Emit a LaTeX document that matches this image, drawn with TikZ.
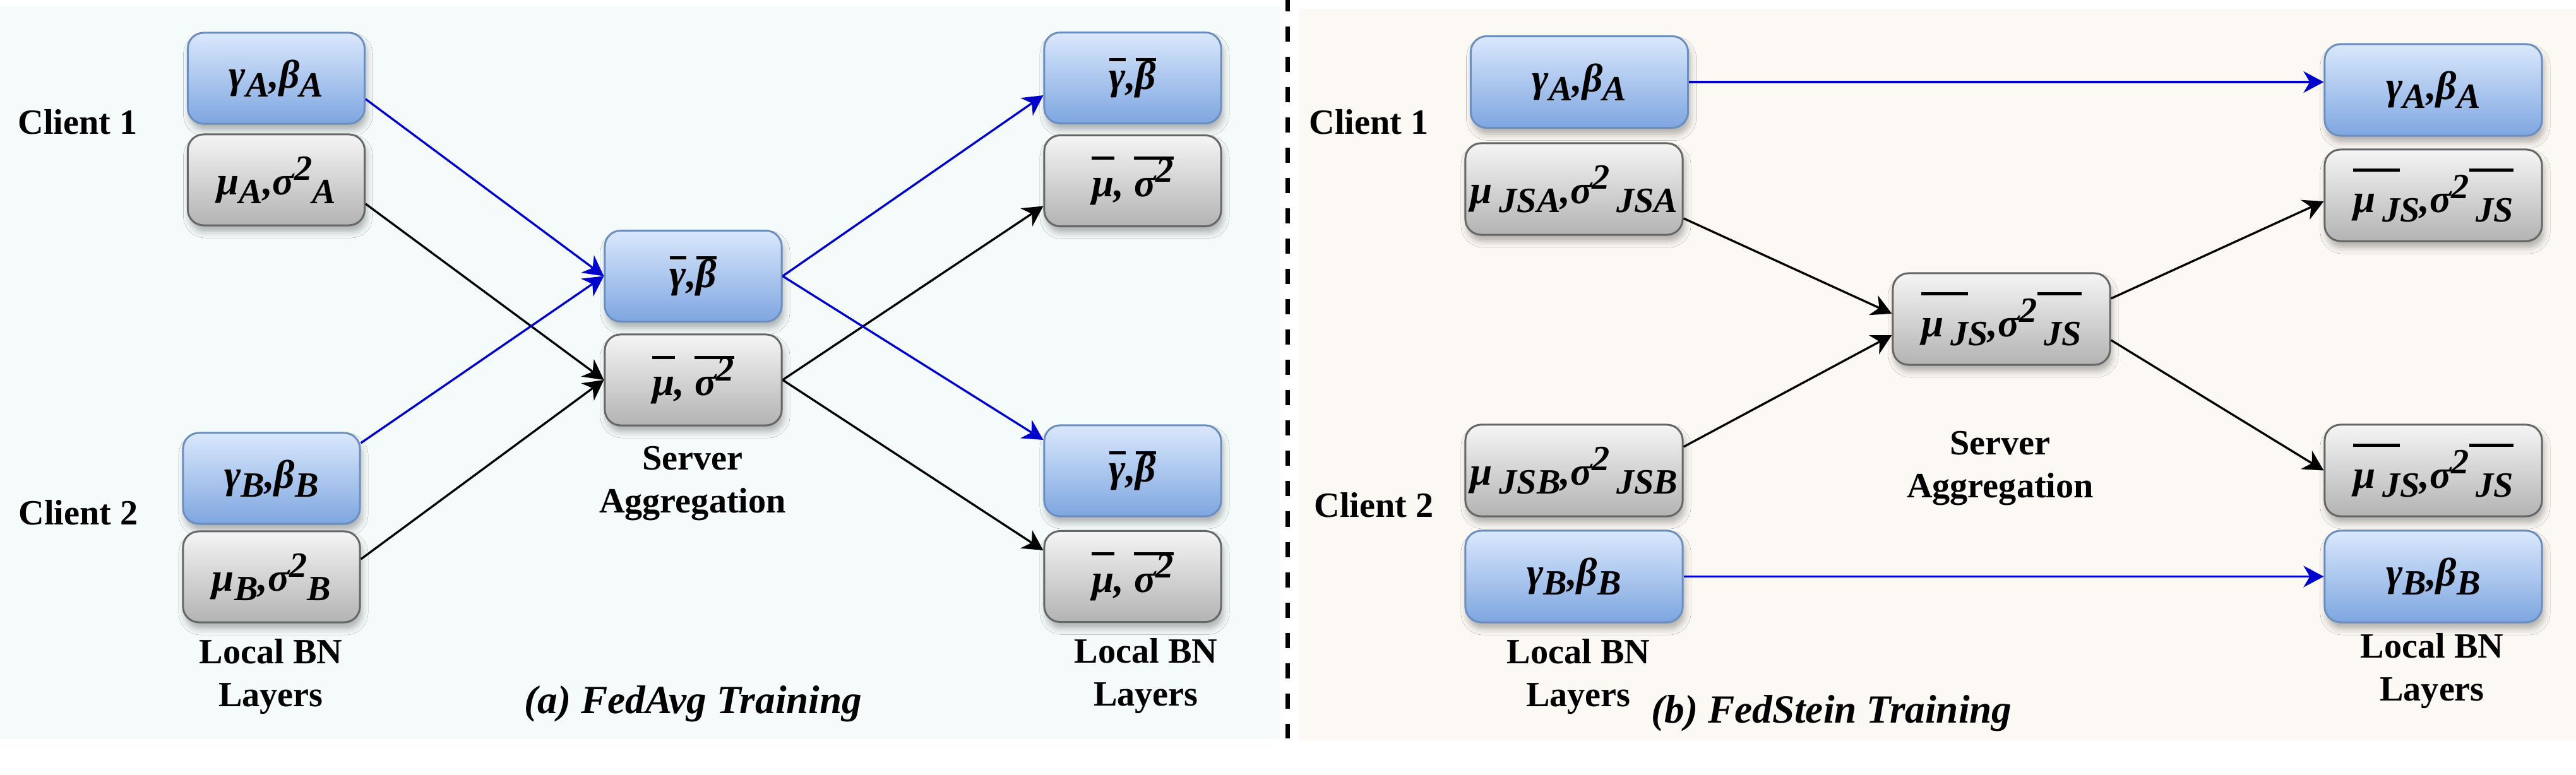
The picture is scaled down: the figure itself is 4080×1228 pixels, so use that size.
\documentclass[tikz,border=0pt]{standalone}
\usepackage{fontspec}
\setmainfont{Liberation Serif}
\usetikzlibrary{arrows.meta,shadows.blur,calc}

\definecolor{bgL}{HTML}{F5FBFB}
\definecolor{bgR}{HTML}{FCF9F4}
\definecolor{blueTop}{HTML}{DAE8FC}
\definecolor{blueBot}{HTML}{7EA6E0}
\definecolor{blueEdge}{HTML}{6C8EBF}
\definecolor{grayTop}{HTML}{F5F5F5}
\definecolor{grayBot}{HTML}{B3B3B3}
\definecolor{grayEdge}{HTML}{666666}
\definecolor{arrowBlue}{HTML}{0000CC}

\newcommand{\sbs}[1]{\raisebox{-4pt}{\fontsize{16}{16}\selectfont #1}}
\newcommand{\sps}[1]{\raisebox{6.5pt}{\fontsize{16}{16}\selectfont #1}}
\newcommand{\ob}[2]{\setbox0\hbox{#2}\rlap{\raisebox{#1}{\rule{\wd0}{1.3pt}}}\box0}

\newcommand{\labGA}{γ\sbs{A},β\sbs{A}}
\newcommand{\labGB}{γ\sbs{B},β\sbs{B}}
\newcommand{\labMA}{μ\sbs{A},σ\sps{2}\sbs{A}}
\newcommand{\labMB}{μ\sbs{B},σ\sps{2}\sbs{B}}
\newcommand{\labGbar}{\ob{12.5pt}{γ},\ob{12.5pt}{β}}
\newcommand{\labMbar}{\ob{16.5pt}{μ}, \ob{16.5pt}{σ\sps{2}}}
\newcommand{\labJSA}{μ\,\sbs{JSA},σ\sps{2}\,\sbs{JSA}}
\newcommand{\labJSB}{μ\,\sbs{JSB},σ\sps{2}\,\sbs{JSB}}
\newcommand{\labJSbar}{\ob{18.5pt}{μ\,\sbs{J}}\sbs{S},σ\sps{2}\ob{18.5pt}{\,\sbs{JS}}}

\tikzset{
  box/.style={rounded corners=0.25cm, line width=0.85pt, minimum height=1.44cm,
    inner sep=0pt, font=\bfseries\itshape\fontsize{18}{20}\selectfont,
    blur shadow={shadow xshift=0.03cm, shadow yshift=-0.1cm,
      shadow blur radius=0.1cm, shadow opacity=30}},
  bluebox/.style={box, draw=blueEdge, top color=blueTop, bottom color=blueBot},
  graybox/.style={box, draw=grayEdge, top color=grayTop, bottom color=grayBot},
  narrowbox/.style={minimum width=2.8cm},
  widebox/.style={minimum width=3.44cm, minimum height=1.45cm},
  lbl/.style={font=\bfseries\fontsize{16}{19.5}\selectfont, align=center, inner sep=0pt},
  captext/.style={font=\bfseries\itshape\fontsize{18}{21}\selectfont, inner sep=0pt},
  conn/.style={line width=0.95pt, -{Stealth[length=0.32cm, width=0.34cm, inset=0.1cm]}},
  bconn/.style={conn, draw=arrowBlue},
  kconn/.style={conn, draw=black},
}

\begin{document}
\begin{tikzpicture}[x=0.01cm, y=-0.01cm]
\useasboundingbox (0,0) rectangle (4080,1228);
\fill[white] (0,0) rectangle (4080,1228);
% panel backgrounds
\fill[bgL] (0,10) rectangle (2027,1170);
\fill[bgR] (2058,14) rectangle (4080,1173);
% separator
\coordinate (septop) at (2039,-6);
\coordinate (sepbot) at (2039,1170);
\draw[line width=2pt, dash pattern=on 0.24cm off 0.24cm] (septop) -- (sepbot);

% ---------- (a) FedAvg ----------
\node[bluebox, narrowbox] (gA1) at (437.5,124) {\labGA};
\node[graybox, narrowbox] (mA1) at (437.5,285) {\labMA};
\node[bluebox, narrowbox] (gB1) at (430,758) {\labGB};
\node[graybox, narrowbox] (mB1) at (430,914) {\labMB};
\node[bluebox, narrowbox] (gS) at (1098,437.5) {\labGbar};
\node[graybox, narrowbox] (mS) at (1098,602) {\labMbar};
\node[bluebox, narrowbox] (gR1) at (1794,123.5) {\labGbar};
\node[graybox, narrowbox] (mR1) at (1794,286.5) {\labMbar};
\node[bluebox, narrowbox] (gR2) at (1794,746) {\labGbar};
\node[graybox, narrowbox] (mR2) at (1794,913.5) {\labMbar};

\node[lbl] (c1a) at (123,193) {Client 1};
\node[lbl] (c2a) at (124,812) {Client 2};
\node[lbl] (srva) at (1097,766) {Server\\Aggregation};
\node[lbl] (bnla) at (429,1072) {Local BN\\Layers};
\node[lbl] (bnra) at (1815,1071) {Local BN\\Layers};
\node[captext] (capa) at (1098,1115) {(a) FedAvg Training};

\draw[bconn] ([yshift=-0.33cm]gA1.east) -- (gS.west);
\draw[kconn] ([yshift=-0.38cm]mA1.east) -- (mS.west);
\draw[bconn] ([yshift=0.56cm]gB1.east) -- (gS.west);
\draw[kconn] ([yshift=0.28cm]mB1.east) -- (mS.west);
\draw[bconn] (gS.east) -- ([yshift=-0.275cm]gR1.west);
\draw[kconn] (mS.east) -- ([yshift=-0.4cm]mR1.west);
\draw[bconn] (gS.east) -- ([yshift=0.49cm]gR2.west);
\draw[kconn] (mS.east) -- ([yshift=0.415cm]mR2.west);

% ---------- (b) FedStein ----------
\node[bluebox, widebox] (gA2) at (2501.5,130) {\labGA};
\node[graybox, widebox] (mA2) at (2493,299.5) {\labJSA};
\node[graybox, widebox] (mB2) at (2493,745.5) {\labJSB};
\node[bluebox, widebox] (gB2) at (2493,913.5) {\labGB};
\node[graybox, widebox] (S2) at (3170,505.5) {\labJSbar};
\node[bluebox, widebox] (gA3) at (3854,142.5) {\labGA};
\node[graybox, widebox] (mA3) at (3854,309.5) {\labJSbar};
\node[graybox, widebox] (mB3) at (3854,745.5) {\labJSbar};
\node[bluebox, widebox] (gB3) at (3854,913.5) {\labGB};

\node[lbl] (c1b) at (2168,193) {Client 1};
\node[lbl] (c2b) at (2176,800) {Client 2};
\node[lbl] (srvb) at (3168,742) {Server\\Aggregation};
\node[lbl] (bnlb) at (2500,1072) {Local BN\\Layers};
\node[lbl] (bnrb) at (3852,1063) {Local BN\\Layers};
\node[captext] (capb) at (2901,1130) {(b) FedStein Training};

\draw[bconn] (gA2.east) -- (gA2.east -| gA3.west);
\draw[bconn] (gB2.east) -- (gB3.west);
\draw[kconn] ([yshift=-0.465cm]mA2.east) -- ([yshift=0.085cm]S2.west);
\draw[kconn] ([yshift=0.375cm]mB2.east) -- ([yshift=-0.255cm]S2.west);
\draw[kconn] ([yshift=0.325cm]S2.east) -- ([yshift=-0.095cm]mA3.west);
\draw[kconn] ([yshift=-0.335cm]S2.east) -- (mB3.west);
\end{tikzpicture}
\end{document}
